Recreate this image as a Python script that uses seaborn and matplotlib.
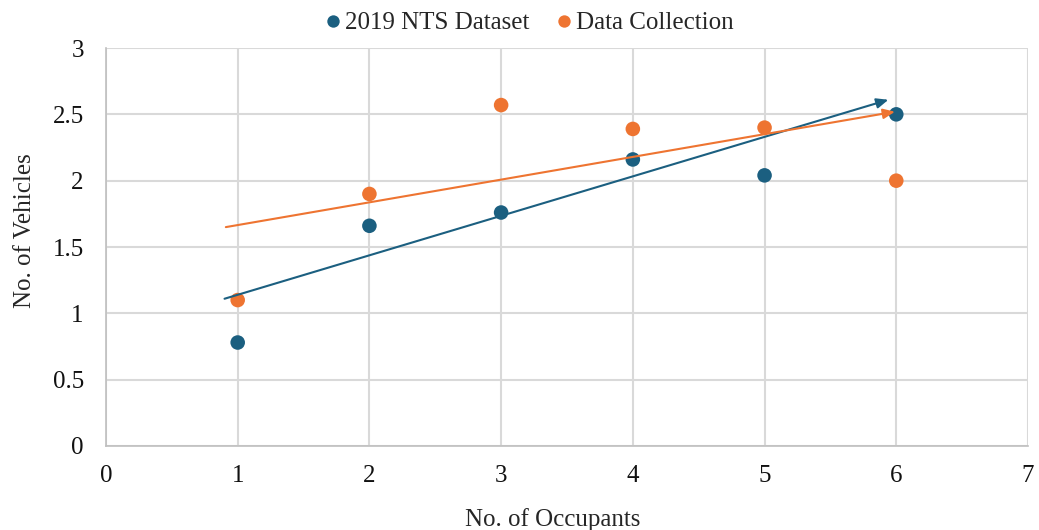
import numpy as np
import pandas as pd
import seaborn as sns
import matplotlib.pyplot as plt

# values
occupants = [1, 2, 3, 4, 5, 6]
nts_vehicles = [0.78, 1.66, 1.76, 2.16, 2.04, 2.50]
collection_vehicles = [1.10, 1.90, 2.57, 2.39, 2.40, 2.00]
series_names = ['2019 NTS Dataset', 'Data Collection']

# trend arrows (start x, start y, end x, end y)
nts_trend = [0.90, 1.11, 5.94, 2.61]
collection_trend = [0.91, 1.65, 5.99, 2.52]

x_ticks = [0, 1, 2, 3, 4, 5, 6, 7]
y_ticks = [0, 0.5, 1, 1.5, 2, 2.5, 3]
y_tick_labels = ['0', '0.5', '1', '1.5', '2', '2.5', '3']

blue = '#1b5f80'
orange = '#ee7431'

sns.set_style('white')
plt.rcParams['font.family'] = ['Liberation Serif', 'DejaVu Serif']

df = pd.DataFrame({
    'occupants': occupants * 2,
    'vehicles': nts_vehicles + collection_vehicles,
    'series': [series_names[0]] * len(occupants) + [series_names[1]] * len(occupants),
})

fig = plt.figure(figsize=(10.39, 5.30), dpi=100)
ax = fig.add_axes([0.102, 0.1585, 0.8874, 0.7509])

sns.scatterplot(data=df, x='occupants', y='vehicles', hue='series',
                palette=[blue, orange], s=110, edgecolor='none', ax=ax, zorder=3)

for trend, color in [(nts_trend, blue), (collection_trend, orange)]:
    ax.annotate('', xy=(trend[2], trend[3]), xytext=(trend[0], trend[1]),
                arrowprops=dict(arrowstyle='-|>,head_length=0.7,head_width=0.3',
                                color=color, lw=1.5, shrinkA=0, shrinkB=0),
                zorder=4)

ax.set_xlim(0, 7)
ax.set_ylim(0, 3)
ax.set_xticks(x_ticks)
ax.set_yticks(y_ticks)
ax.set_yticklabels(y_tick_labels)
ax.grid(True, color='#d9d9d9', lw=1.5)
ax.set_axisbelow(True)
for side in ['top', 'right']:
    ax.spines[side].set_visible(False)
for side in ['left', 'bottom']:
    ax.spines[side].set_color('#bfbfbf')
    ax.spines[side].set_linewidth(1.2)
ax.tick_params(axis='both', length=0, labelsize=18, colors='#111111')
ax.tick_params(axis='y', pad=16)
ax.tick_params(axis='x', pad=14)
ax.set_xlabel('No. of Occupants', fontsize=18, labelpad=15)
ax.set_ylabel('No. of Vehicles', fontsize=18, labelpad=12)
ax.xaxis.label.set_x(0.484)
ax.yaxis.label.set_y(0.54)

ax.legend(loc='lower center', bbox_to_anchor=(0.45, 1.0), ncol=2, frameon=False,
          fontsize=18, handletextpad=-0.5, columnspacing=0.36, markerscale=0.85,
          borderaxespad=0.15)

fig.savefig('out.png', dpi=100)
